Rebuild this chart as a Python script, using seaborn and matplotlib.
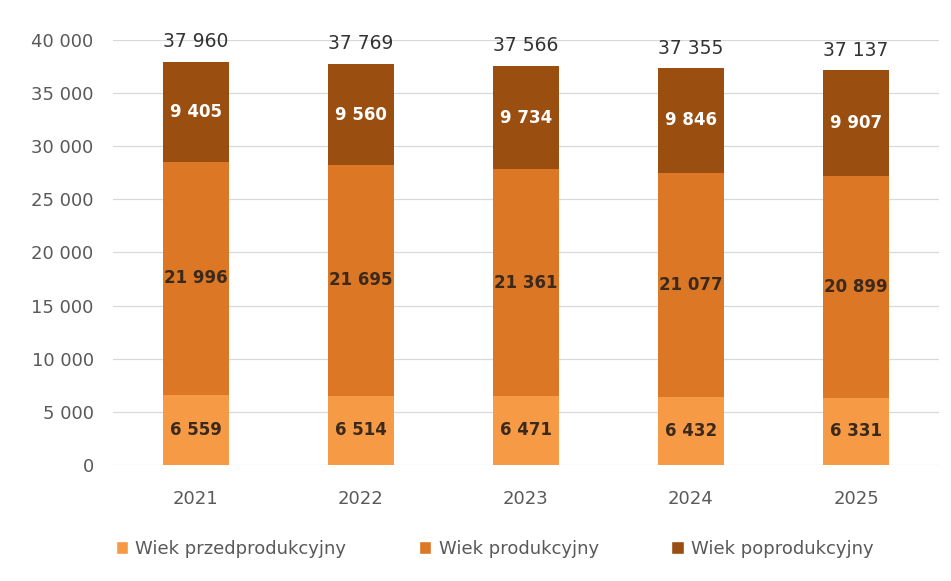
import matplotlib
matplotlib.use("Agg")
import matplotlib.pyplot as plt
import seaborn as sns
import numpy as np
import pandas as pd
from matplotlib.ticker import FuncFormatter
from matplotlib.patches import Patch

# data
years = ["2021", "2022", "2023", "2024", "2025"]
przed = [6559, 6514, 6471, 6432, 6331]
prod = [21996, 21695, 21361, 21077, 20899]
poprod = [9405, 9560, 9734, 9846, 9907]
series_names = ["Wiek przedprodukcyjny", "Wiek produkcyjny", "Wiek poprodukcyjny"]
colors = ["#F79A46", "#DC7725", "#9A4E10"]

df = pd.DataFrame({"year": years, "przed": przed, "prod": prod, "poprod": poprod})
totals = df["przed"] + df["prod"] + df["poprod"]

sns.set_style("white")
plt.rcParams['font.family'] = ['DejaVu Sans']

fig = plt.figure(figsize=(9.51, 5.81), dpi=100)
ax = fig.add_axes([0.119, 0.2, 0.868, 0.731])

bottoms = [np.zeros(len(years)), df["przed"].values, (df["przed"] + df["prod"]).values]
cols = ["przed", "prod", "poprod"]
for col, bot, c in zip(cols, bottoms, colors):
    sns.barplot(data=df, x="year", y=col, bottom=bot, color=c, width=0.4,
                saturation=1, linewidth=0, ax=ax, zorder=3)

# segment labels
txt_cols = ["#3b2a1c", "#3b2a1c", "white"]
for col, bot, tc in zip(cols, bottoms, txt_cols):
    for i, v in enumerate(df[col]):
        ax.text(i, bot[i] + v / 2, f"{v:,}".replace(",", " "), ha="center", va="center",
                fontsize=12, fontweight="bold", color=tc, zorder=4)

# total labels
for i, t in enumerate(totals):
    ax.text(i, t + 1000, f"{t:,}".replace(",", " "), ha="center", va="bottom",
            fontsize=13.5, color="#333333", zorder=4, clip_on=False)

ax.set_ylim(0, 40000)
ax.set_yticks(np.arange(0, 40001, 5000))
ax.yaxis.set_major_formatter(FuncFormatter(lambda v, p: f"{int(v):,}".replace(",", " ")))
ax.grid(axis="y", color="#d9d9d9", linewidth=0.9, zorder=0)
ax.set_xlabel("")
ax.set_ylabel("")
ax.tick_params(axis="both", length=0, labelsize=13, labelcolor="#595959")
ax.tick_params(axis="x", pad=18)
ax.tick_params(axis="y", pad=14)
for s in ax.spines.values():
    s.set_visible(False)

handles = [Patch(facecolor=c, label=n) for c, n in zip(colors, series_names)]
fig.legend(handles=handles, loc="center", bbox_to_anchor=(0.52, 0.055), ncol=3,
           frameon=False, fontsize=13, handlelength=0.7, handleheight=0.7,
           columnspacing=4.0, handletextpad=0.4, labelcolor="#595959")

plt.savefig("out.png", dpi=100, facecolor="white")
plt.close()
